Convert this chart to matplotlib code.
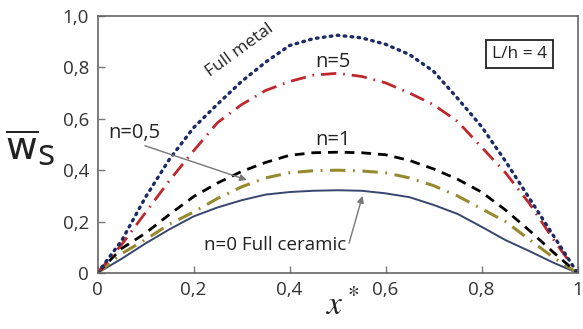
import numpy as np
import matplotlib
matplotlib.use("Agg")
import matplotlib.pyplot as plt

plt.rcParams['font.family'] = ['Open Sans', 'DejaVu Sans']

# x* positions and read-off deflection values
x = [0, 0.05, 0.1, 0.15, 0.2, 0.25, 0.3, 0.35, 0.4, 0.45, 0.5,
     0.55, 0.6, 0.65, 0.7, 0.75, 0.8, 0.85, 0.9, 0.95, 1.0]
full_metal = [0, 0.125, 0.295, 0.443, 0.565, 0.657, 0.745, 0.82, 0.885, 0.912, 0.925,
              0.915, 0.89, 0.85, 0.785, 0.68, 0.57, 0.435, 0.29, 0.145, 0]
n5 = [0, 0.11, 0.235, 0.36, 0.475, 0.585, 0.655, 0.71, 0.745, 0.77, 0.777,
      0.765, 0.74, 0.70, 0.655, 0.59, 0.49, 0.39, 0.27, 0.13, 0]
n1 = [0, 0.095, 0.155, 0.228, 0.297, 0.35, 0.395, 0.43, 0.458, 0.468, 0.47,
      0.468, 0.46, 0.438, 0.405, 0.365, 0.315, 0.245, 0.165, 0.08, 0]
n05 = [0, 0.075, 0.13, 0.19, 0.237, 0.29, 0.335, 0.37, 0.39, 0.398, 0.40,
       0.397, 0.39, 0.37, 0.34, 0.30, 0.25, 0.20, 0.13, 0.06, 0]
n0 = [0, 0.055, 0.115, 0.17, 0.22, 0.255, 0.283, 0.305, 0.315, 0.32, 0.322,
      0.32, 0.31, 0.295, 0.265, 0.23, 0.18, 0.128, 0.085, 0.04, 0]

xticks = [0, 0.2, 0.4, 0.6, 0.8, 1.0]
xtick_labels = ['0', '0,2', '0,4', '0,6', '0,8', '1']
yticks = [0, 0.2, 0.4, 0.6, 0.8, 1.0]
ytick_labels = ['0', '0,2', '0,4', '0,6', '0,8', '1,0']

fig = plt.figure(figsize=(5.83, 3.29), dpi=100)
ax = fig.add_axes([97.5 / 583, 1 - 273 / 329, 480 / 583, 257 / 329])

ax.plot(x, n0, color='#36466e', lw=1.4)
ax.plot(x, n05, color='#978a2e', lw=2.2, dashes=(5, 2.5, 0.6, 2.5))
ax.plot(x, n1, color='black', lw=2.0, dashes=(3.5, 2.5))
ax.plot(x, n5, color='#c0272d', lw=2.0, dashes=(5.5, 2.5, 0.6, 2.5))
ax.plot(x, full_metal, color='#1c2a66', lw=2.4, dashes=(0.5, 1.6), dash_capstyle='round')

ax.set_xlim(0, 1)
ax.set_ylim(0, 1)
ax.set_xticks(xticks)
ax.set_xticklabels(xtick_labels)
ax.set_yticks(yticks)
ax.set_yticklabels(ytick_labels)
ax.tick_params(direction='in', length=5, width=1, color='#777777',
               labelsize=13.5, labelcolor='#333333', pad=6)
for s in ax.spines.values():
    s.set_color('#666666')
    s.set_linewidth(1.2)

# axis labels
fig.text(5 / 583, 1 - 160 / 329, r'$\overline{\mathsf{w}}$', fontsize=28,
         color='#222222', ha='left', va='baseline')
fig.text(37 / 583, 1 - 165 / 329, 's', fontsize=26, color='#222222',
         ha='left', va='baseline')
fig.text(343 / 583, 1 - 314 / 329, r'$x^*$', fontsize=24, color='#222222',
         ha='center', va='baseline', math_fontfamily='stix')

# curve annotations
ax.text(0.296, 0.868, 'Full metal', rotation=36, fontsize=12.5, color='#222222',
        ha='center', va='center')
ax.text(0.49, 0.82, 'n=5', fontsize=14.5, color='#222222', ha='center', va='center')
ax.text(0.49, 0.518, 'n=1', fontsize=14.5, color='#222222', ha='center', va='center')
ax.annotate('n=0,5', xy=(0.311, 0.362), xytext=(0.076, 0.545), fontsize=14.5,
            color='#222222', ha='center', va='center',
            arrowprops=dict(arrowstyle='-|>', color='#777777', lw=1,
                            shrinkA=0, shrinkB=0, relpos=(0.55, 0),
                            mutation_scale=10))
ax.annotate('n=0 Full ceramic', xy=(0.552, 0.30), xytext=(0.37, 0.109),
            fontsize=13.5, color='#222222', ha='center', va='center',
            arrowprops=dict(arrowstyle='-|>', color='#777777', lw=1,
                            shrinkA=0, shrinkB=0, relpos=(1.02, 0.6),
                            mutation_scale=10))
ax.text(0.879, 0.852, 'L/h = 4', fontsize=12.5, color='#222222', ha='center',
        va='center', transform=ax.transAxes,
        bbox=dict(boxstyle='square,pad=0.35', fc='white', ec='#222222', lw=1.3))

fig.savefig('out.png', dpi=100)
